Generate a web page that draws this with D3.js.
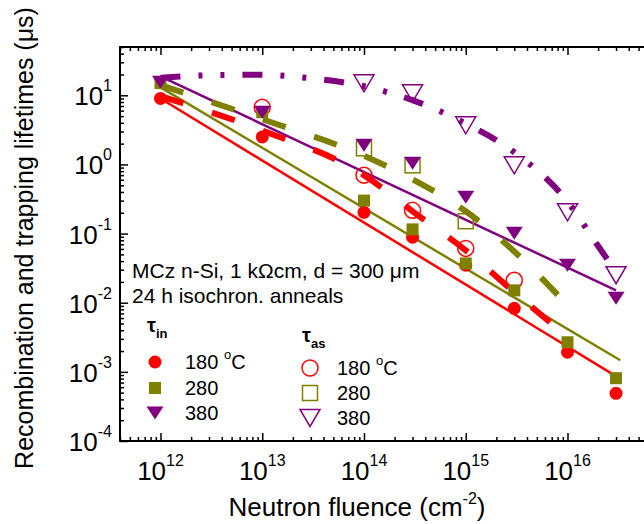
<!DOCTYPE html>
<html><head><meta charset="utf-8">
<script src="https://cdn.jsdelivr.net/npm/d3@7"></script>
<style>html,body{margin:0;padding:0;background:#fff;}svg{display:block;font-family:Arial,"Liberation Sans",sans-serif;}</style>
</head><body>
<svg id="chart" width="644" height="524"></svg>
<script>
// ---- data ----
const fluence = [1e12, 1e13, 1e14, 3e14, 1e15, 3e15, 1e16, 3e16];
const tauIn180 = [9.0, 2.5, 0.203, 0.0885, 0.0348, 0.0083, 0.00192, 0.00049];
const tauIn280 = [15, 5.7, 0.30, 0.115, 0.037, 0.0151, 0.00268, 0.00081];
const tauIn380 = [15.4, 5.7, 1.89, 1.04, 0.335, 0.101, 0.0348, 0.0116];

const fluenceAs180 = [1e13, 1e14, 3e14, 1e15, 3e15];
const tauAs180 = [6.7, 0.70, 0.217, 0.061, 0.0211];
const fluenceAs280 = [1e14, 3e14, 1e15];
const tauAs280 = [1.71, 0.97, 0.151];
const fluenceAs380 = [1e14, 3e14, 1e15, 3e15, 1e16, 3e16];
const tauAs380 = [14.9, 10.7, 3.68, 0.97, 0.203, 0.025];

// straight fits (solid)
const fitIn180X = [1e12, 2.8e16], fitIn180Y = [9.0, 9.2e-4];
const fitIn280X = [1e12, 3.3e16], fitIn280Y = [13, 0.00147];
const fitIn380X = [1e12, 3e16],   fitIn380Y = [18.8, 0.0151];

// curves (dashed)
const curve180X = [1e12, 1e13, 1e14, 3e14, 1e15, 3e15, 1e16];
const curve180Y = [9.7, 3.1, 0.70, 0.21, 0.057, 0.0142, 0.0032];
const curve280X = [1e12, 1e13, 1e14, 3e14, 1e15, 3e15, 1e16];
const curve280Y = [14, 4.5, 1.33, 0.61, 0.21, 0.055, 0.0092];
const curve380X = [1e12, 3e12, 1e13, 3e13, 1e14, 3e14, 1e15, 3e15, 1e16, 2e16, 3e16];
const curve380Y = [18, 19.5, 19.8, 17.6, 13.5, 8.5, 3.9, 1.5, 0.29, 0.066, 0.028];

const xTickExps = [12, 13, 14, 15, 16];
const yTickExps = [-4, -3, -2, -1, 0, 1];

const RED = "#ff0000", OLIVE = "#808000", PURPLE = "#800080";

// ---- layout ----
const svg = d3.select("#chart");
const L = 120, T = 47, B = 441;
const x = d3.scaleLog().domain([4e11, 1e17]).range([L, L + 101.75 * Math.log10(1e17 / 4e11)]);
const y = d3.scaleLog().domain([1e-4, 50]).range([B, B - 69.14 * Math.log10(50 / 1e-4)]);
const R = x.range()[1];

// minor tick values
const xMinor = [], yMinor = [];
for (let e = 11; e <= 16; e++) for (let m = 2; m <= 9; m++) { const v = m * Math.pow(10, e); if (v >= 4e11 && v <= 1e17) xMinor.push(v); }
for (let e = -4; e <= 1; e++) for (let m = 2; m <= 9; m++) { const v = m * Math.pow(10, e); if (v >= 1e-4 && v <= 50) yMinor.push(v); }
const xMajor = xTickExps.map(e => Math.pow(10, e));
const yMajor = yTickExps.map(e => Math.pow(10, e));

function axisG(axis, tr) {
  const g = svg.append("g").attr("transform", tr).call(axis);
  g.select(".domain").remove();
  g.selectAll("line").attr("stroke", "#000").attr("stroke-width", 1.5);
  return g;
}
// bottom (ticks inward = up)
axisG(d3.axisBottom(x).tickValues(xMajor).tickSizeInner(-8).tickSizeOuter(0).tickFormat(""), `translate(0,${B})`);
axisG(d3.axisBottom(x).tickValues(xMinor).tickSizeInner(-4).tickSizeOuter(0).tickFormat(""), `translate(0,${B})`);
// top (ticks inward = down)
axisG(d3.axisTop(x).tickValues(xMajor).tickSizeInner(-8).tickSizeOuter(0).tickFormat(""), `translate(0,${T})`);
axisG(d3.axisTop(x).tickValues(xMinor).tickSizeInner(-4).tickSizeOuter(0).tickFormat(""), `translate(0,${T})`);
// left (ticks inward = right)
axisG(d3.axisLeft(y).tickValues(yMajor).tickSizeInner(-8).tickSizeOuter(0).tickFormat(""), `translate(${L},0)`);
axisG(d3.axisLeft(y).tickValues(yMinor).tickSizeInner(-4).tickSizeOuter(0).tickFormat(""), `translate(${L},0)`);
// right
axisG(d3.axisRight(y).tickValues(yMajor).tickSizeInner(-8).tickSizeOuter(0).tickFormat(""), `translate(${R},0)`);

// frame
svg.append("rect").attr("x", L).attr("y", T).attr("width", R - L).attr("height", B - T)
  .attr("fill", "none").attr("stroke", "#000").attr("stroke-width", 2);

// tick labels
xTickExps.forEach(e => {
  const t = svg.append("text").attr("x", x(Math.pow(10, e))).attr("y", B + 39)
    .attr("text-anchor", "middle").attr("font-size", 26).attr("fill", "#000");
  t.append("tspan").text("10");
  t.append("tspan").attr("font-size", 16).attr("dy", -14).text(e);
});
yTickExps.forEach(e => {
  const t = svg.append("text").attr("x", 112).attr("y", y(Math.pow(10, e)) + 10)
    .attr("text-anchor", "end").attr("font-size", 26).attr("fill", "#000");
  t.append("tspan").text("10");
  t.append("tspan").attr("font-size", 16).attr("dy", -14).text(e < 0 ? "-" + (-e) : e);
});

// axis titles
const xt = svg.append("text").attr("x", 357).attr("y", 516).attr("text-anchor", "middle")
  .attr("font-size", 26).attr("fill", "#000");
xt.append("tspan").text("Neutron fluence (cm");
xt.append("tspan").attr("font-size", 16).attr("dy", -12).text("-2");
xt.append("tspan").attr("dy", 12).text(")");

svg.append("text").attr("transform", "translate(33,238) rotate(-90)").attr("text-anchor", "middle")
  .attr("font-size", 25).attr("fill", "#000").text("Recombination and trapping lifetimes (\u03bcs)");

// ---- lines ----
const lineGen = d3.line().x(d => x(d[0])).y(d => y(d[1]));
const curveGen = d3.line().x(d => x(d[0])).y(d => y(d[1])).curve(d3.curveMonotoneX);
const zip = (a, b) => a.map((v, i) => [v, b[i]]);

function drawLine(gen, xs, ys, color, w, dash) {
  svg.append("path").attr("d", gen(zip(xs, ys))).attr("fill", "none")
    .attr("stroke", color).attr("stroke-width", w).attr("stroke-dasharray", dash || null);
}
drawLine(lineGen, fitIn180X, fitIn180Y, RED, 2.5);
drawLine(lineGen, fitIn280X, fitIn280Y, OLIVE, 2.5);
drawLine(lineGen, fitIn380X, fitIn380Y, PURPLE, 2.5);
drawLine(curveGen, curve180X, curve180Y, RED, 6, "24,30");
drawLine(curveGen, curve280X, curve280Y, OLIVE, 6, "24,30");
drawLine(curveGen, curve380X, curve380Y, PURPLE, 6, "20,18,4,18,4,18");

// ---- markers ----
function marker(g, type, cx, cy, color, filled) {
  let s;
  if (type === "circle") {
    s = g.append("circle").attr("cx", cx).attr("cy", cy).attr("r", filled ? 6.5 : 8);
  } else if (type === "square") {
    const h = filled ? 6 : 7.5;
    s = g.append("rect").attr("x", cx - h).attr("y", cy - h).attr("width", 2 * h).attr("height", 2 * h);
  } else {
    const hw = filled ? 8.5 : 10, hh = filled ? 6.5 : 8.5;
    s = g.append("path").attr("d", `M${cx - hw},${cy - hh}L${cx + hw},${cy - hh}L${cx},${cy + hh}Z`);
  }
  if (filled) s.attr("fill", color).attr("stroke", "none");
  else s.attr("fill", "none").attr("stroke", color).attr("stroke-width", 1.5);
}
const mg = svg.append("g");
function series(xs, ys, type, color, filled) {
  xs.forEach((v, i) => marker(mg, type, x(v), y(ys[i]), color, filled));
}
series(fluenceAs180, tauAs180, "circle", RED, false);
series(fluenceAs280, tauAs280, "square", OLIVE, false);
series(fluenceAs380, tauAs380, "tri", PURPLE, false);
series(fluence, tauIn180, "circle", RED, true);
series(fluence, tauIn280, "square", OLIVE, true);
series(fluence, tauIn380, "tri", PURPLE, true);

// ---- annotations / legend ----
svg.append("text").attr("x", 132).attr("y", 278).attr("font-size", 21).attr("fill", "#000")
  .text("MCz n-Si, 1 k\u03a9cm, d = 300 \u03bcm");
svg.append("text").attr("x", 132).attr("y", 303).attr("font-size", 21).attr("fill", "#000")
  .text("24 h isochron. anneals");

function tauLabel(tx, ty, sub) {
  const t = svg.append("text").attr("x", tx).attr("y", ty).attr("font-size", 20)
    .attr("font-weight", "bold").attr("fill", "#000");
  t.append("tspan").text("\u03c4");
  t.append("tspan").attr("font-size", 13).attr("dy", 6).text(sub);
}
tauLabel(147, 332, "in");
tauLabel(302, 342, "as");

const legLabels = ["180 \u00b0C", "280", "380"];
const legTypes = ["circle", "square", "tri"];
const legColors = [RED, OLIVE, PURPLE];
const legInY = [362, 388, 413];
const legAsY = [368, 393, 418];
function legText(tx, ty, label) {
  const t = svg.append("text").attr("x", tx).attr("y", ty).attr("font-size", 20).attr("fill", "#000");
  if (label.indexOf("\u00b0") >= 0) {
    t.append("tspan").text("180 ");
    t.append("tspan").attr("font-size", 13).attr("dy", -10).text("o");
    t.append("tspan").attr("dy", 10).text("C");
  } else t.text(label);
}
legLabels.forEach((lab, i) => {
  marker(svg, legTypes[i], 155, legInY[i], legColors[i], true);
  legText(185, legInY[i] + 7, lab);
  marker(svg, legTypes[i], 310, legAsY[i], legColors[i], false);
  legText(337, legAsY[i] + 7, lab);
});
</script>
</body></html>
